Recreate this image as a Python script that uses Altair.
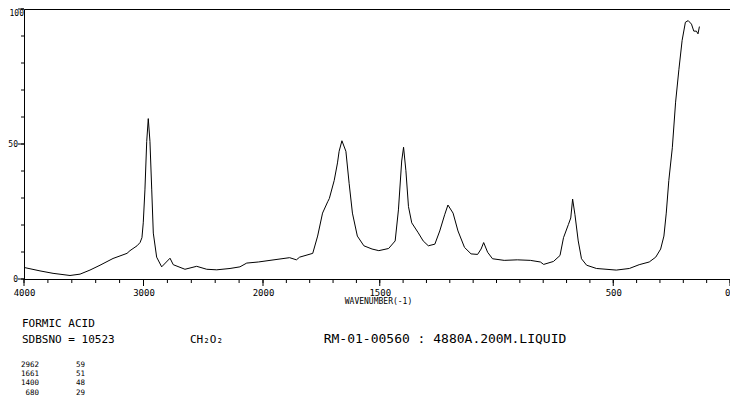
import altair as alt
import pandas as pd

# ---- spectrum (wavenumber cm-1, relative intensity) ----
wavenumber = [3992, 3866, 3757, 3615, 3531, 3448, 3364, 3255, 3138, 3113, 3054, 3029,
              3013, 3002, 2988, 2973, 2960, 2946, 2931, 2918, 2890, 2848, 2778, 2751,
              2653, 2555, 2471, 2387, 2276, 2193, 2136, 2039, 1970, 1886, 1857, 1843,
              1787, 1766, 1745, 1723, 1716, 1695, 1681, 1674, 1662, 1645, 1631, 1617,
              1596, 1568, 1533, 1504, 1462, 1434, 1420, 1406, 1398, 1388, 1377, 1363,
              1335, 1314, 1292, 1264, 1243, 1222, 1208, 1186, 1165, 1137, 1109, 1081,
              1066, 1055, 1038, 1017, 967, 911, 855, 812, 798, 756, 728, 713, 692, 682,
              674, 664, 650, 636, 614, 572, 487, 431, 389, 346, 318, 297, 283, 273, 262,
              247, 233, 219, 205, 191, 179, 165, 155, 144, 137, 131]
intensity = [4.2, 3.0, 2.1, 1.3, 1.8, 3.3, 5.1, 7.6, 9.5, 10.5, 12.3, 13.5,
             15.3, 20.8, 33.0, 51.0, 59.4, 51.0, 33.0, 17.0, 8.1, 4.5, 7.7, 5.3,
             3.6, 4.7, 3.6, 3.4, 3.9, 4.5, 5.9, 6.3, 6.9, 7.9, 7.1, 8.1,
             9.5, 15.9, 24.4, 28.6, 29.8, 36.5, 43.0, 47.3, 51.2, 47.3, 35.3, 24.4,
             15.9, 12.3, 11.1, 10.5, 11.3, 14.1, 25.6, 43.7, 48.8, 40.1, 26.8, 20.8,
             17.1, 14.1, 12.3, 12.9, 17.8, 23.8, 27.4, 24.4, 17.8, 11.7, 9.3, 9.1,
             11.1, 13.5, 9.9, 7.5, 6.9, 7.1, 6.9, 6.3, 5.4, 6.5, 8.7, 15.3, 20.2, 22.6,
             29.6, 23.8, 14.1, 7.5, 5.1, 3.9, 3.3, 3.9, 5.3, 6.3, 8.1, 11.1, 15.9, 24.4, 36.5,
             48.6, 65.5, 77.5, 88.4, 95.1, 95.7, 94.4, 91.8, 91.8, 90.8, 93.5]

# ---- axis ticks / labels ----
x_ticks = list(range(4000, 2000, -200)) + list(range(2000, -1, -100))
x_labeled = [4000, 3000, 2000, 1500, 500, 0]
y_ticks = list(range(0, 101, 10))
y_labeled = [0, 50, 100]
x_title = "WAVENUMBER(-1)"

# ---- annotation texts ----
compound = "FORMIC ACID"
sdbs_no = "SDBSNO = 10523"
formula = "CH\u2082O\u2082"
conditions = "RM-01-00560 : 4880A.200M.LIQUID"
peak_positions = ["2962", "1661", "1400", "680"]
peak_heights = ["59", "51", "48", "29"]

W, H = 706, 270
FONT = "DejaVu Sans Mono"

df = pd.DataFrame({"wn": wavenumber, "I": intensity})

x_scale = alt.Scale(domain=[4000, 2000, 0], range=[0, 239, W], nice=False, zero=False)
y_scale = alt.Scale(domain=[0, 100], nice=False, zero=False)

x_axis = alt.Axis(
    values=x_labeled, format="d", ticks=False, tickSize=0,
    labelPadding=9, labelBaseline="top", labelFlush=False, labelOverlap=False,
    labelAlign={"condition": {"test": "datum.value == 0", "value": "right"}, "value": "center"},
    labelFont=FONT, labelFontSize=9, labelColor="black",
    domainColor="black", grid=False,
    titleFont=FONT, titleFontSize=8, titleFontWeight="normal", titleColor="black",
    titleX=354, titleY=22, titleBaseline="middle", titleAlign="center",
)
is100 = "datum.value == 100"
y_axis = alt.Axis(
    values=y_labeled, ticks=False, tickSize=0,
    labelPadding={"condition": {"test": is100, "value": 0.5}, "value": 6.5},
    labelBaseline={"condition": {"test": is100, "value": "top"}, "value": "middle"},
    labelFlush=False, labelOverlap=False,
    labelFont=FONT, labelFontSize=8, labelColor="black",
    domainColor="black", grid=False,
)

line = alt.Chart(df).mark_line(color="black", strokeWidth=1).encode(
    x=alt.X("wn:Q", title=x_title, scale=x_scale, axis=x_axis),
    y=alt.Y("I:Q", title=None, scale=y_scale, axis=y_axis),
)

def xticks(vals, length):
    return alt.Chart(pd.DataFrame({"wn": vals})).mark_rule(
        color="black", strokeWidth=1).encode(
        x=alt.X("wn:Q", scale=x_scale), y=alt.value(H), y2=alt.value(H + length))

def yticks(vals, length):
    return alt.Chart(pd.DataFrame({"I": vals})).mark_rule(
        color="black", strokeWidth=1).encode(
        y=alt.Y("I:Q", scale=y_scale), x=alt.value(-length), x2=alt.value(0))

def label(txt, x, y, size=11, align="left"):
    return alt.Chart(pd.DataFrame({"t": [txt]})).mark_text(
        x=x, y=y, align=align, baseline="alphabetic", font=FONT,
        fontSize=size, color="black").encode(text="t:N")

texts = [
    label(compound, -2, 318),
    label(sdbs_no, -2, 334),
    label(formula, 166, 334),
    label(conditions, 421, 334, size=13, align="center"),
]
peaks_a = alt.Chart(pd.DataFrame({"t": [0]})).mark_text(
    x=15, y=358, align="right", baseline="alphabetic", font=FONT, fontSize=7.5,
    lineHeight=9.2, color="black", text=peak_positions)
peaks_b = alt.Chart(pd.DataFrame({"t": [0]})).mark_text(
    x=52, y=358, align="left", baseline="alphabetic", font=FONT, fontSize=7.5,
    lineHeight=9.2, color="black", text=peak_heights)

chart = alt.layer(
    line,
    xticks(x_ticks, 4), xticks(x_labeled, 7),
    yticks(y_ticks, 3), yticks(y_labeled, 6),
    *texts, peaks_a, peaks_b,
).properties(
    width=W, height=H,
    padding={"left": 16, "top": 1, "right": 0, "bottom": 117},
    autosize=alt.AutoSizeParams(type="none"),
).configure_view(stroke="black", strokeWidth=1)

chart.save("out.html", embed_options={"renderer": "svg", "actions": False})
